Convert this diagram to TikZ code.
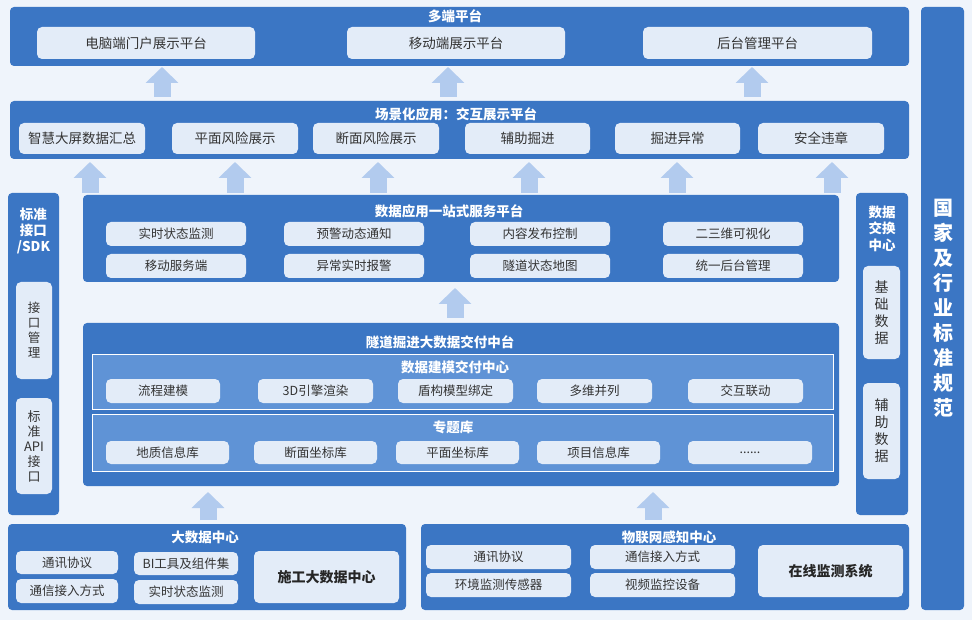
\documentclass[tikz,border=0pt]{standalone}
\usepackage{fontspec}
\setmainfont{Noto Sans CJK SC}
\usetikzlibrary{arrows.meta}
\definecolor{bgc}{HTML}{EFF4FB}
\definecolor{panc}{HTML}{3B76C4}
\definecolor{innc}{HTML}{5F93D6}
\definecolor{cellc}{HTML}{E3ECF8}
\definecolor{arrc}{HTML}{B2CBEE}
\definecolor{txtc}{HTML}{333333}
\newcommand\pbox[7][]{\node[#1,minimum width={(#5)-(#3)},minimum height={(#6)-(#4)}] (#2) at ({((#3)+(#5))/2},{((#4)+(#6))/2}) {#7};}
\newcommand\farrow[5]{\path (#3,0) coordinate (x#1#3); \draw[fat, shorten <=#4pt, shorten >=#5pt] (#1.north -| x#1#3) -- (#2.south -| x#1#3);}
\tikzset{
  panel/.style={fill=panc, rounded corners=4pt, inner sep=0pt, outer sep=0pt},
  innerp/.style={fill=innc, draw=white, line width=0.8pt, inner sep=0pt, outer sep=0pt},
  cell/.style={fill=cellc, rounded corners=5pt, inner sep=0pt, outer sep=0pt, text=txtc, font=\fontsize{12.5}{15}\selectfont},
  bigcell/.style={cell, font=\fontsize{13.5}{16}\selectfont},
  boldcell/.style={cell, text=black!85, font=\bfseries\fontsize{14}{16}\selectfont},
  ptitle/.style={text=white, inner sep=0pt, font=\bfseries\fontsize{13.5}{16}\selectfont},
  fat/.style={draw=arrc, line width=17pt, -{Triangle[length=16pt,width=32pt]}}
}
\begin{document}
\begin{tikzpicture}[x=1pt,y=-1pt]
\useasboundingbox (0,0) rectangle (972,620);
\fill[bgc] (0,0) rectangle (972,620);
% panels
\pbox[panel]{p1}{10}{7}{909}{66}{}
\pbox[panel]{p2}{10}{101}{909}{159}{}
\pbox[panel]{p3}{83}{195}{839}{282}{}
\pbox[panel]{p4}{83}{323}{839}{486}{}
\pbox[panel]{pl}{8}{193}{59}{515}{}
\pbox[panel]{pr}{856}{193}{908}{515}{}
\pbox[panel]{pn}{921}{7}{964}{610}{}
\pbox[panel]{p5}{8}{524}{406}{610}{}
\pbox[panel]{p6}{421}{524}{909}{610}{}
\pbox[innerp]{q1}{92}{354}{833}{409}{}
\pbox[innerp]{q2}{92}{414}{833}{471}{}
% titles
\node[ptitle] (t1) at (455,16) {多端平台};
\node[ptitle] (t2) at (456,114) {场景化应用：交互展示平台};
\node[ptitle] (t3) at (449,211) {数据应用一站式服务平台};
\node[ptitle] (t4) at (440,342) {隧道掘进大数据交付中台};
\node[ptitle] (tq1) at (455,367) {数据建模交付中心};
\node[ptitle] (tq2) at (453,427) {专题库};
\node[ptitle] (t5) at (205,537) {大数据中心};
\node[ptitle] (t6) at (669,537) {物联网感知中心};
\node[ptitle, align=center, font=\bfseries\fontsize{13.5}{16}\selectfont] (tl) at (33.5,231) {标准\\接口\\/SDK};
\node[ptitle, align=center, font=\bfseries\fontsize{13.5}{16.5}\selectfont] (tr) at (882,228.5) {数据\\交换\\中心};
\node[ptitle, align=center, font=\bfseries\fontsize{20}{25}\selectfont] (tn) at (943,308) {国\\家\\及\\行\\业\\标\\准\\规\\范};
% top row
\pbox[bigcell]{c11}{37}{27}{255}{59}{电脑端门户展示平台}
\pbox[bigcell]{c12}{347}{27}{565}{59}{移动端展示平台}
\pbox[bigcell]{c13}{643}{27}{872}{59}{后台管理平台}
% row 2
\pbox[bigcell]{c21}{19}{123}{145}{154}{智慧大屏数据汇总}
\pbox[bigcell]{c22}{172}{123}{298}{154}{平面风险展示}
\pbox[bigcell]{c23}{313}{123}{439}{154}{断面风险展示}
\pbox[bigcell]{c24}{465}{123}{590}{154}{辅助掘进}
\pbox[bigcell]{c25}{615}{123}{740}{154}{掘进异常}
\pbox[bigcell]{c26}{758}{123}{884}{154}{安全违章}
% panel 3
\pbox[cell]{c31}{106}{222}{246}{246}{实时状态监测}
\pbox[cell]{c32}{284}{222}{424}{246}{预警动态通知}
\pbox[cell]{c33}{470}{222}{610}{246}{内容发布控制}
\pbox[cell]{c34}{663}{222}{803}{246}{二三维可视化}
\pbox[cell]{c35}{106}{254}{246}{278}{移动服务端}
\pbox[cell]{c36}{284}{254}{424}{278}{异常实时报警}
\pbox[cell]{c37}{470}{254}{610}{278}{隧道状态地图}
\pbox[cell]{c38}{663}{254}{803}{278}{统一后台管理}
% panel 4
\pbox[cell]{c41}{106}{379}{220}{403}{流程建模}
\pbox[cell]{c42}{258}{379}{373}{403}{3D引擎渲染}
\pbox[cell]{c43}{398}{379}{513}{403}{盾构模型绑定}
\pbox[cell]{c44}{537}{379}{652}{403}{多维并列}
\pbox[cell]{c45}{688}{379}{803}{403}{交互联动}
\pbox[cell]{c46}{106}{441}{229}{464}{地质信息库}
\pbox[cell]{c47}{254}{441}{377}{464}{断面坐标库}
\pbox[cell]{c48}{396}{441}{519}{464}{平面坐标库}
\pbox[cell]{c49}{537}{441}{660}{464}{项目信息库}
\pbox[cell]{c40}{688}{441}{812}{464}{......}
% side cells
\pbox[cell, align=center, font=\fontsize{12.5}{15}\selectfont]{l1}{16}{282}{52}{379}{接\\口\\管\\理}
\pbox[cell, align=center, font=\fontsize{13}{15}\selectfont]{l2}{16}{398}{52}{494}{标\\准\\API\\接\\口}
\pbox[cell, align=center, font=\fontsize{14}{17}\selectfont]{r1}{863}{266}{900}{359}{基\\础\\数\\据}
\pbox[cell, align=center, font=\fontsize{14}{17}\selectfont]{r2}{863}{383}{900}{479}{辅\\助\\数\\据}
% bottom
\pbox[cell]{b1}{16}{551}{118}{574}{通讯协议}
\pbox[cell]{b2}{16}{579}{118}{603}{通信接入方式}
\pbox[cell]{b3}{134}{552}{238}{575}{BI工具及组件集}
\pbox[cell]{b4}{134}{580}{238}{604}{实时状态监测}
\pbox[boldcell]{b5}{254}{551}{399}{603}{施工大数据中心}
\pbox[cell]{b6}{426}{545}{571}{569}{通讯协议}
\pbox[cell]{b7}{426}{573}{571}{597}{环境监测传感器}
\pbox[cell]{b8}{590}{545}{735}{569}{通信接入方式}
\pbox[cell]{b9}{590}{573}{735}{597}{视频监控设备}
\pbox[boldcell]{b10}{758}{545}{903}{597}{在线监测系统}
% arrows
\farrow{p2}{p1}{162}{4}{1}
\farrow{p2}{p1}{448}{4}{1}
\farrow{p2}{p1}{752}{4}{1}
\farrow{p3}{p2}{90}{2}{3}
\farrow{p3}{p2}{235}{2}{3}
\farrow{p3}{p2}{378}{2}{3}
\farrow{p3}{p2}{529}{2}{3}
\farrow{p3}{p2}{677}{2}{3}
\farrow{p3}{p2}{832}{2}{3}
\farrow{p4}{p3}{455}{5}{6}
\farrow{p5}{p4}{208}{4}{6}
\farrow{p6}{p4}{653}{4}{6}
\end{tikzpicture}
\end{document}
